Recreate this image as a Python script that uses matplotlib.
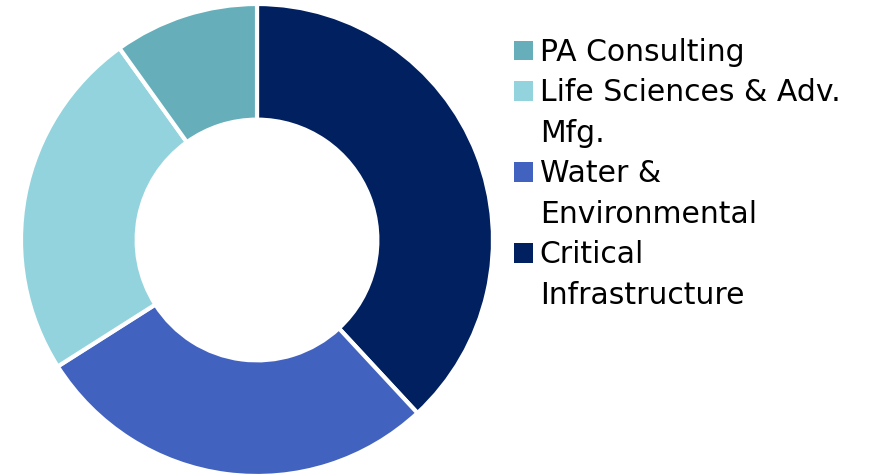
import matplotlib.pyplot as plt
from matplotlib.patches import Patch

# segment shares, clockwise from 12 o'clock
segments = ['Critical Infrastructure', 'Water & Environmental',
            'Life Sciences & Adv. Mfg.', 'PA Consulting']
shares = [38.1, 27.9, 24.1, 9.9]
colors = ['#002060', '#4262BF', '#92D3DD', '#66AEBA']

# legend lines as wrapped in the original (top to bottom)
legend_lines = [('PA Consulting', 3), ('Life Sciences & Adv.', 2), ('Mfg.', None),
                ('Water &', 1), ('Environmental', None),
                ('Critical', 0), ('Infrastructure', None)]

fig = plt.figure(figsize=(8.82, 4.75), dpi=100)
ax = fig.add_axes([21 / 882, -1 / 475, 472 / 882, 472 / 475])

ax.pie(shares, colors=colors, startangle=90, counterclock=False, radius=1.0,
       wedgeprops=dict(width=0.49, edgecolor='white', linewidth=3))
ax.set_xlim(-1, 1)
ax.set_ylim(-1, 1)
ax.set_aspect('equal')
ax.axis('off')

handles = []
labels = []
for text, idx in legend_lines:
    if idx is None:
        handles.append(Patch(facecolor='none', edgecolor='none'))
    else:
        handles.append(Patch(facecolor=colors[idx], edgecolor='none'))
    labels.append(text)

fig.legend(handles, labels, loc='upper left', bbox_to_anchor=(514 / 882, 1 - 38 / 475),
           frameon=False, fontsize=21.5, handlelength=0.62, handleheight=0.62,
           handletextpad=0.24, labelspacing=0.385, borderpad=0, borderaxespad=0)

fig.savefig('out.png', dpi=100)
